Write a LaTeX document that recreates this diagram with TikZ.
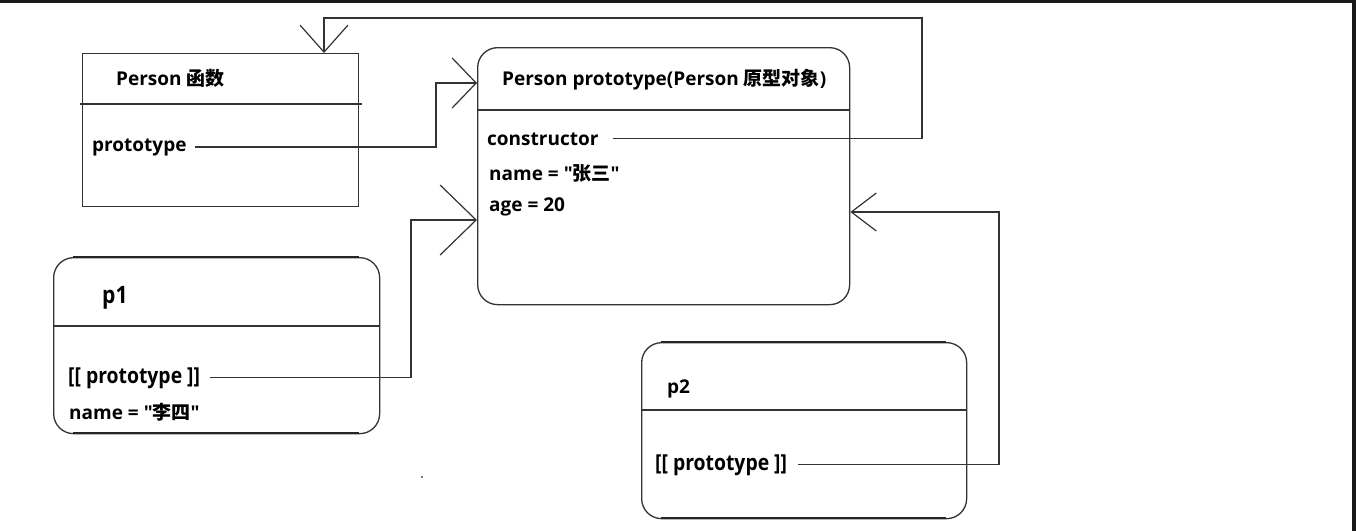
\documentclass[tikz,border=0pt]{standalone}
\usepackage{fontspec}
\setmainfont{Open Sans}[Ligatures=TeXOff]
\newfontfamily\cjk{Noto Sans CJK SC}
\newfontfamily\cond{Open Sans}[FakeStretch=0.88,Ligatures=TeXOff]
\usetikzlibrary{arrows.meta}
\begin{document}
\begin{tikzpicture}[x=1pt,y=-1pt,
  box/.style={draw=black!80,line width=1.3pt,inner sep=0,anchor=north west},
  rbox/.style={box,rounded corners=20pt},
  lbl/.style={inner sep=0,anchor=base west,font=\fontsize{19}{22}\selectfont\bfseries},
  big/.style={inner sep=0,anchor=base west,font=\fontsize{22}{26}\selectfont\cond\bfseries},
  conn/.style={draw=black!80,line width=1.2pt},
  edge/.style={line width=2.6pt,draw=black!85}]
\useasboundingbox (0,0) rectangle (1356,531);
\fill[black!90] (0,0) rectangle (1356,3);
\fill[black!90] (1352,0) rectangle (1356,531);

% Person function
\node[box,minimum width=276pt,minimum height=153pt] (fn) at (82,53) {};
\draw[box] (80,104) -- (362,104);
\node[lbl] (fntitle) at (116,85) {Person {\cjk\bfseries 函数}};
\node[lbl] (fnproto) at (92,151) {prototype};

% Person prototype
\node[rbox,minimum width=372pt,minimum height=257pt] (pp) at (477,47) {};
\draw[box] (477,110) -- (849,110);
\node[lbl] (pptitle) at (502,85) {Person prototype(Person {\cjk\bfseries 原型对象})};
\node[lbl] (ppctor) at (487,145) {constructor};
\node[lbl] (ppname) at (489,180) {name = "{\cjk\bfseries 张三}"};
\node[lbl] (ppage) at (489,211) {age = 20};

% p1
\node[rbox,minimum width=326pt,minimum height=176pt] (p1) at (53,257) {};
\draw[edge] (73,257) -- (359,257);
\draw[edge] (73,433) -- (359,433);
\draw[box] (53,326) -- (380,326);
\node[big,font=\fontsize{24}{28}\selectfont\cond\bfseries] (p1title) at (102,303) {p1};
\node[big] (p1proto) at (68,383) {[[ prototype ]]};
\node[lbl] (p1name) at (69,419) {name = "{\cjk\bfseries 李四}"};

% p2
\node[rbox,minimum width=325pt,minimum height=176pt] (p2) at (641,342) {};
\draw[edge] (661,342) -- (946,342);
\draw[edge] (661,518) -- (946,518);
\draw[box] (641,410) -- (966,410);
\node[lbl] (p2title) at (667,393) {p2};
\node[big] (p2proto) at (655,470) {[[ prototype ]]};

% stray dot
\fill[black!70] (422,477) circle (1.2pt);

% connectors
\coordinate (in1) at (pp.west |- 0,83);
\coordinate (in2) at (pp.west |- 0,220);
\coordinate (in3) at (pp.east |- 0,212);
\coordinate (in4) at (fn.north -| 324,0);
\draw[conn,-{Straight Barb[length=24pt,width=50pt]}] ([xshift=8pt]fnproto.east) -| (436,83) -- (in1);
\draw[conn,-{Straight Barb[length=27pt,width=48pt]}] ([xshift=14pt]ppctor.east) -| (922,18) -| (in4);
\draw[conn,-{Straight Barb[length=36pt,width=70pt]}] ([xshift=10pt]p1proto.east) -| (411,220) -- (in2);
\draw[conn,-{Straight Barb[length=25pt,width=38pt]}] ([xshift=11pt]p2proto.east) -| (999,212) -- (in3);
\end{tikzpicture}
\end{document}
